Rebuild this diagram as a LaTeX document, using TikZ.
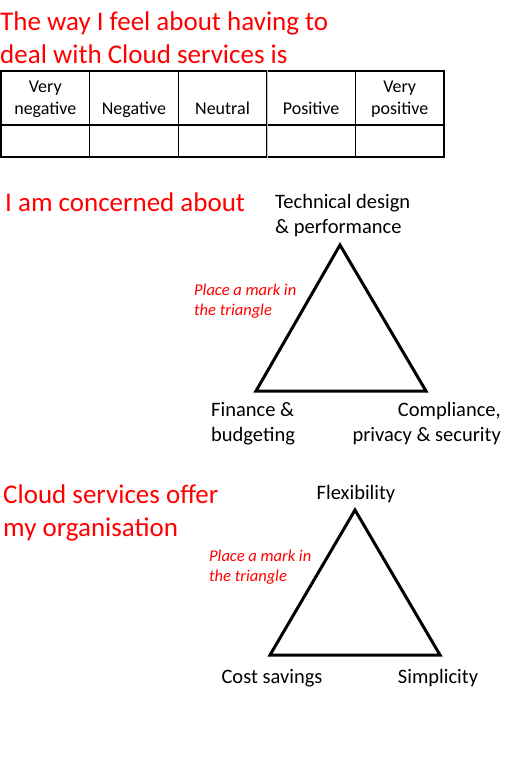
\documentclass[tikz,border=0pt]{standalone}
\usepackage{fontspec}
\setmainfont{Carlito}
\usetikzlibrary{positioning, calc}

\begin{document}
\begin{tikzpicture}[
      x=1pt, y=-1pt,
      title/.style={text=red, font=\fontsize{27}{33}\selectfont, align=left, anchor=west, inner sep=0pt},
      hint/.style={text=red, font=\fontsize{16.5}{20}\itshape\selectfont, align=left, anchor=west, inner sep=0pt},
      corner/.style={font=\fontsize{20.5}{25}\selectfont, inner sep=0pt},
      cell/.style={draw, line width=1.3pt, minimum width=88.6pt, inner sep=0pt, font=\fontsize{18}{22}\selectfont, align=center},
      tri/.style={line width=3pt, line join=miter}
    ]
    \useasboundingbox (0,0) rectangle (504,758);

    % rating scale
    \node[title] (q1) at (0,38) {The way I feel about having to\\deal with Cloud services is};
    \foreach \i/\txt in {1/Very\\negative, 2/\vphantom{Very}\\Negative, 3/\vphantom{Very}\\Neutral, 4/\vphantom{Very}\\Positive, 5/Very\\positive} {
      \node[cell, minimum height=54pt, text depth=0pt] (h\i) at ({1+88.6*(\i-0.5)},98) {\txt};
      \node[cell, minimum height=32pt] (c\i) at ({1+88.6*(\i-0.5)},141) {};
    }
    \draw[gray!50, line width=1.3pt] (h3.north east) -- (c3.south east);

    % concerns
    \node[title] (q2) at (5,202) {I am concerned about};
    \coordinate (t1) at (340,245);
    \coordinate (l1) at (256,391);
    \coordinate (r1) at (426,391);
    \draw[tri] (t1) -- (l1) -- (r1) -- cycle;
    \node[corner, align=left, anchor=west] (tech) at (275,216) {Technical design\\\& performance};
    \node[corner, align=left, anchor=west] (fin) at (211,424) {Finance \&\\budgeting};
    \node[corner, align=right, anchor=east] (comp) at (501,424) {Compliance,\\privacy \& security};
    \node[hint] (m1) at (194,301) {Place a mark in\\the triangle};

    % benefits
    \node[title] (q3) at (3,513) {Cloud services offer\\my organisation};
    \coordinate (t2) at (355,510);
    \coordinate (l2) at (270,655);
    \coordinate (r2) at (440,655);
    \draw[tri] (t2) -- (l2) -- (r2) -- cycle;
    \node[corner] (flex) at (356,494) {Flexibility};
    \node[corner] (cost) at (272,678) {Cost savings};
    \node[corner] (simp) at (438,678) {Simplicity};
    \node[hint] (m2) at (209,567) {Place a mark in\\the triangle};
  \end{tikzpicture}
\end{document}
